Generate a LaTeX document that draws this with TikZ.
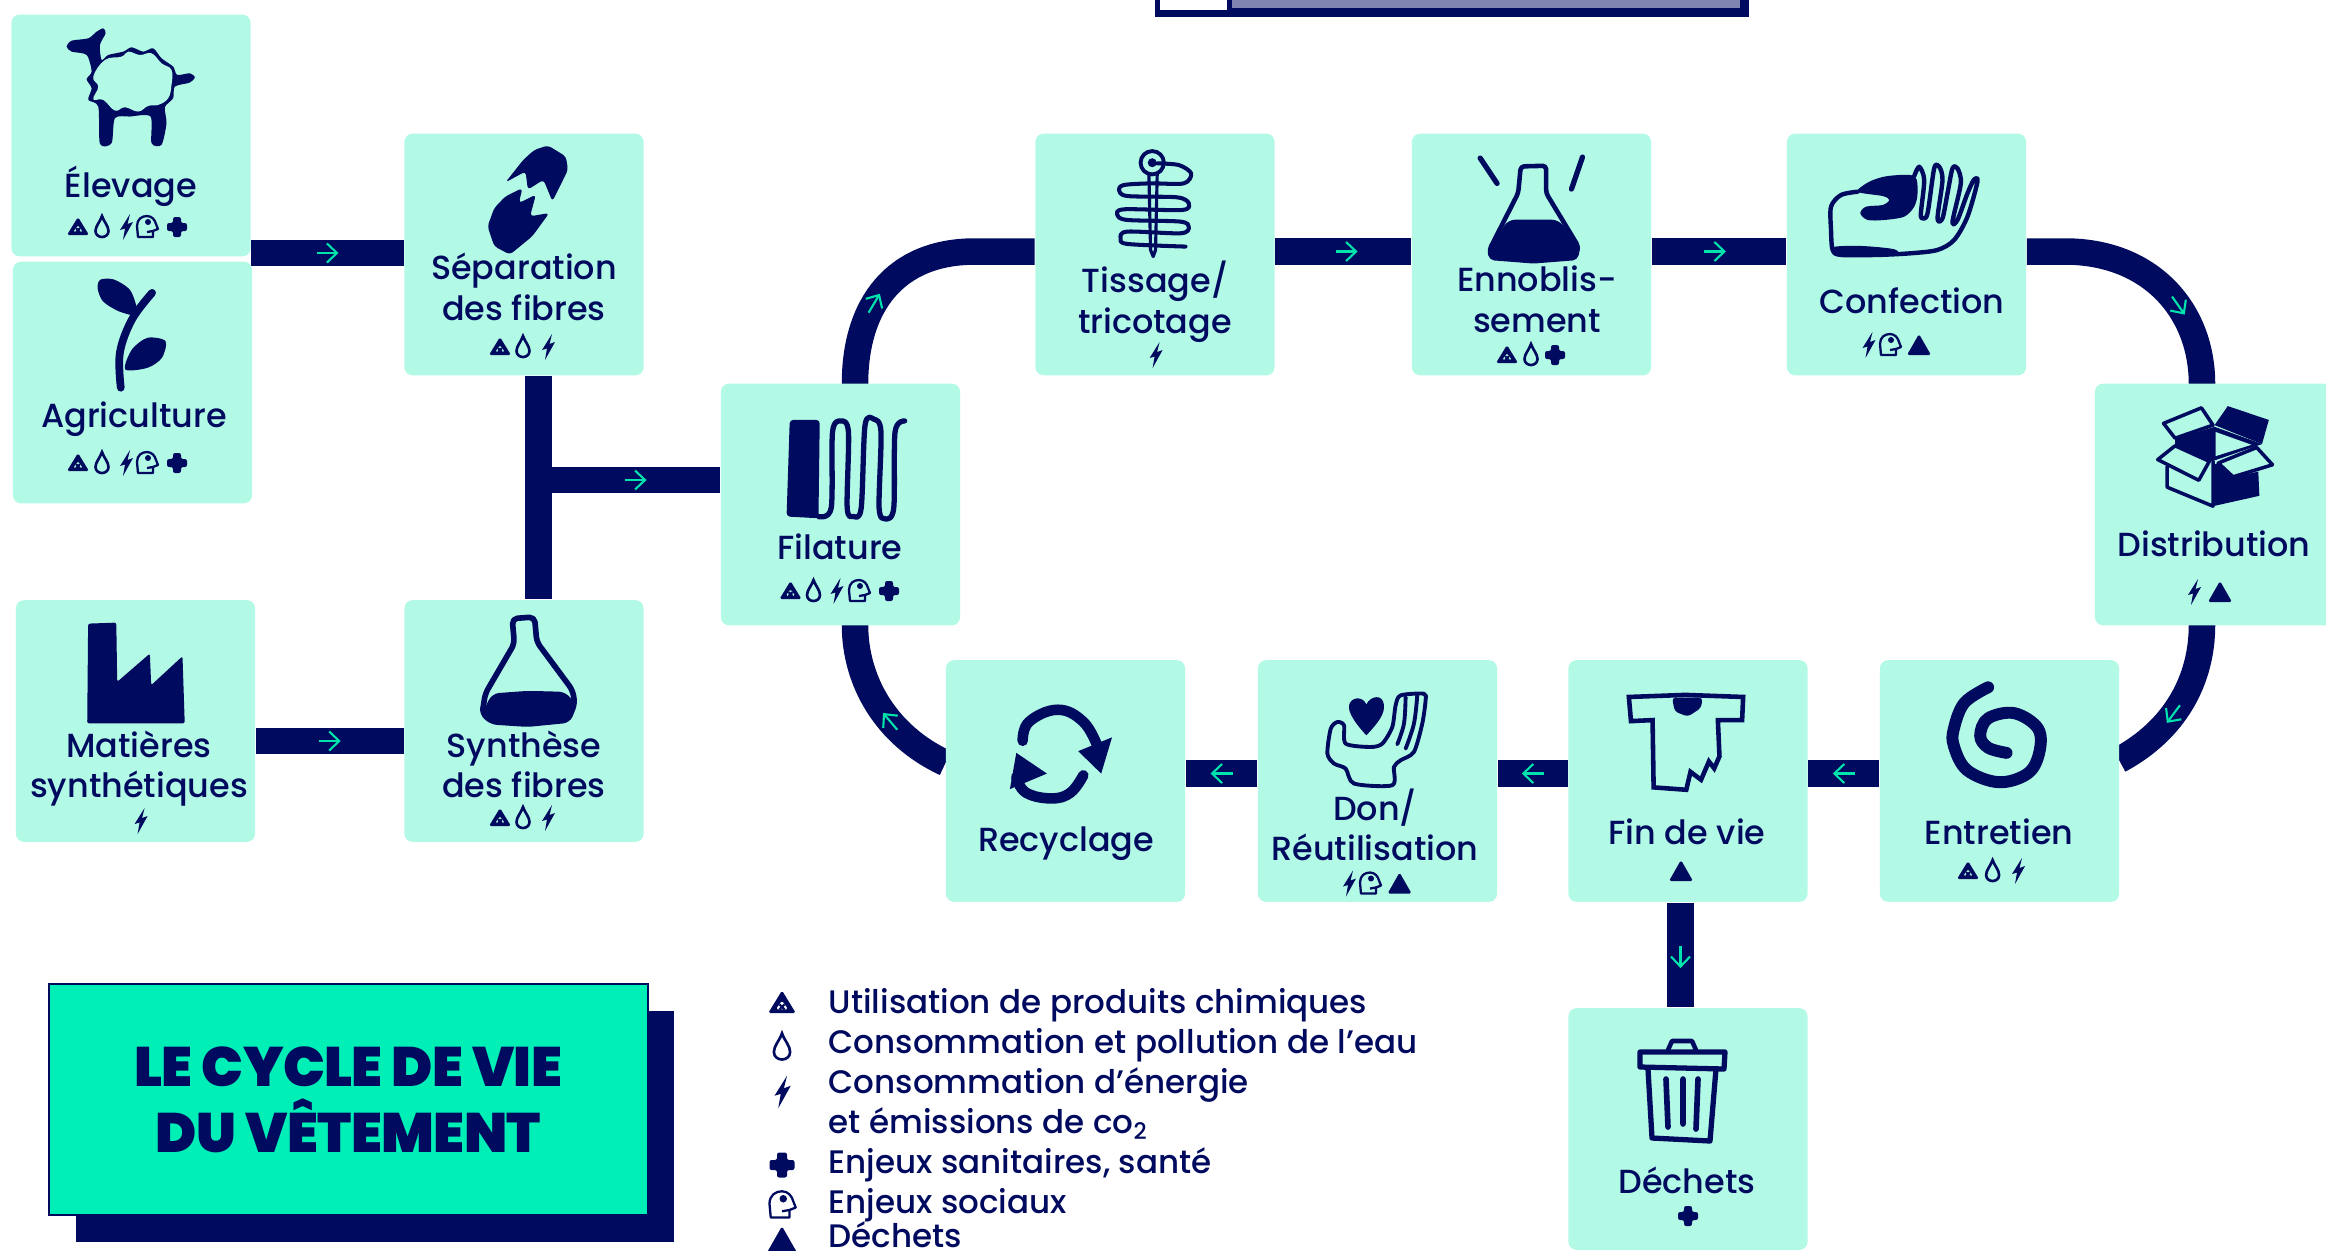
\documentclass[tikz,border=0pt]{standalone}
\usepackage{fontspec}
\setmainfont{Poppins Medium}
\usetikzlibrary{arrows.meta, backgrounds, decorations.markings}
\definecolor{navy}{HTML}{000A5E}
\definecolor{cellgreen}{HTML}{B3FAE6}
\definecolor{titlegreen}{HTML}{00EFB7}
\definecolor{markgreen}{HTML}{00E3AD}
\definecolor{topgrey}{HTML}{8084B0}
\newcommand{\flowarrow}{-{Straight Barb[length=1mm,width=1.9mm]}}
\newfontfamily\titlefont[LetterSpace=-1]{Poppins Black}
\tikzset{
    cell/.style={fill=cellgreen, rounded corners=.08cm, inner sep=0, minimum width=2.39cm, minimum height=2.415cm},
    lbl/.style={text=navy, inner sep=0, anchor=base, align=center, font=\fontsize{9.5}{11.38}\selectfont},
    legendtxt/.style={text=navy, inner sep=0, anchor=base west, font=\fontsize{9.25}{11.38}\selectfont},
    link/.style={draw=navy, line width=.265cm},
    flowmark/.style={draw=markgreen, line width=.6pt, \flowarrow},
    flow/.style={link, postaction={decorate}, decoration={markings, mark=at position #1 with {\draw[flowmark] (-11,0) -- (11,0);}}},
    flow/.default=.5,
    line ink/.style={draw=navy, line width=1.3pt, line join=round, line cap=round},
    % traced from the crops
    crop2/.style={shift={(7cm,-3.8cm)}, x=.006378cm, y=-.003444cm},
    crop4/.style={shift={(10cm,0cm)}, x=.008457cm, y=-.003333cm},
    crop5/.style={shift={(15cm,-3.8cm)}, x=.005269cm, y=-.003444cm},
    crop1/.style={x=.004464cm, y=-.003333cm},
    crop6/.style={shift={(0cm,-5.8cm)}, x=.004464cm, y=-.003333cm},
    third/.style={x=.003333cm, y=-.003333cm},
    % small marks
    chem/.pic={
        \fill[navy, even odd rule, rounded corners=.5pt] (0,-10) -- (11,8) -- (-11,8) -- cycle (0,-2) -- (5,5) -- (-5,5) -- cycle;
        \draw[navy, line width=.6pt] (-2,1) -- (2,5) (2,1) -- (-2,5);
    },
    drop/.pic={
        \draw[navy, line width=.75pt] (0,-11) .. controls (2,-5) and (6.5,-1) .. (6.5,4) .. controls (6.5,8) and (3,10) .. (0,10) .. controls (-3,10) and (-6.5,8) .. (-6.5,4) .. controls (-6.5,-1) and (-2,-5) .. (0,-11) -- cycle;
    },
    bolt/.pic={
        \fill[navy] (4,-13) -- (-6,3) -- (-1,1.5) -- (-3,13) -- (7,-5) -- (1.5,-3) -- cycle;
    },
    face/.pic={
        \draw[navy, line width=.65pt, line join=round] (-9,10) -- (-10,-1) .. controls (-10,-8) and (-5,-11) .. (0,-11) .. controls (5,-11) and (8,-7) .. (9,-3) -- (11,2) -- (6,4) -- (6,10) -- cycle;
        \fill[navy] (1,-5) circle (.3mm);
        \draw[navy, line width=.65pt] (0,5) -- (6,4);
    },
    plus/.pic={
        \fill[navy, rounded corners=.6pt] (-4,-10) -- (4,-10) -- (4,-4) -- (10,-4) -- (10,4) -- (4,4) -- (4,10) -- (-4,10) -- (-4,4) -- (-10,4) -- (-10,-4) -- (-4,-4) -- cycle;
    },
    tri/.pic={
        \fill[navy, rounded corners=.5pt] (0,-11) -- (12,10) -- (-12,10) -- cycle;
    }
}

\begin{document}
\begin{tikzpicture}[x=.01cm, y=-.01cm]
    \useasboundingbox (0,0) rectangle (2326,1250);
    \clip (0,0) rectangle (2326,1250);

    % panel cut by the top edge
    \fill[navy] (1155,-5) rectangle (1749,17);
    \fill[white] (1160,-5) rectangle (1227,9.5);
    \fill[topgrey] (1232,-5) rectangle (1740,8);

    % steps
    \node[cell] (elevage) at (131,135.5) {};
    \node[cell] (agriculture) at (132.5,382.5) {};
    \node[cell] (separation) at (524,254.5) {};
    \node[cell] (matieres) at (135.5,721) {};
    \node[cell] (synthese) at (524,721) {};
    \node[cell] (filature) at (840.5,504.5) {};
    \node[cell] (tissage) at (1155,254.5) {};
    \node[cell] (ennoblissement) at (1531.5,254.5) {};
    \node[cell] (confection) at (1906.5,254.5) {};
    \node[cell] (distribution) at (2214.5,504.5) {};
    \node[cell] (recyclage) at (1065.5,781) {};
    \node[cell] (don) at (1377.5,781) {};
    \node[cell] (findevie) at (1688,781) {};
    \node[cell] (entretien) at (1999.5,781) {};
    \node[cell] (dechets) at (1688,1129) {};

    \coordinate (toprow) at (0,251.5);
    \coordinate (botrow) at (0,773.5);
    \coordinate (junction) at (538.6,480);
    \coordinate (binline) at (1680.5,0);

    \begin{scope}[on background layer]
        \draw[flow] (elevage.east |- 0,253) -- (separation.west |- 0,253);
        \draw[link] (junction |- separation.south) -- (junction |- synthese.north);
        \draw[flow=.534] (junction) -- (filature.west |- junction);
        \draw[flow] (matieres.east |- 0,741) -- (synthese.west |- 0,741);
        \draw[flow=.32] (855,384) .. controls (855,305) and (895,251.5) .. (975,251.5) -- (tissage.west |- toprow);
        \draw[flow=.525] (tissage.east |- toprow) -- (ennoblissement.west |- toprow);
        \draw[flow=.47] (ennoblissement.east |- toprow) -- (confection.west |- toprow);
        \draw[flow=.67] (confection.east |- toprow) -- (2065,251.5) .. controls (2150,251.5) and (2202,310) .. (2202,384);
        \draw[flow=.57] (2202,625) .. controls (2202,680) and (2175,730) .. (2119,760);
        \draw[flow] (entretien.west |- botrow) -- (findevie.east |- botrow);
        \draw[flow] (findevie.west |- botrow) -- (don.east |- botrow);
        \draw[flow] (don.west |- botrow) -- (recyclage.east |- botrow);
        \draw[flow=.4] (945.5,763) .. controls (885,735) and (855,680) .. (855,625);
        \draw[flow=.52] (findevie.south -| binline) -- (dechets.north -| binline);
    \end{scope}

    % titles of the steps
    \node[lbl] (elevagetxt) at (131,197) {Élevage};
    \node[lbl] (agriculturetxt) at (134,427) {Agriculture};
    \node[lbl] (separationtxt) at (524,320) {Séparation\\des fibres};
    \node[lbl] (matierestxt) at (139,797) {Matières\\synthétiques};
    \node[lbl] (synthesetxt) at (524,797) {Synthèse\\des fibres};
    \node[lbl] (filaturetxt) at (840,559) {Filature};
    \node[lbl] (tissagetxt) at (1155,333) {Tissage/\\tricotage};
    \node[lbl] (ennoblissementtxt) at (1537,332) {Ennoblis-\\sement};
    \node[lbl] (confectiontxt) at (1912,313) {Confection};
    \node[lbl] (distributiontxt) at (2214,556.5) {Distribution};
    \node[lbl] (recyclagetxt) at (1066,851) {Recyclage};
    \node[lbl] (dontxt) at (1375,860) {Don/\\Réutilisation};
    \node[lbl] (findevietxt) at (1687,844) {Fin de vie};
    \node[lbl] (entretientxt) at (1999,844) {Entretien};
    \node[lbl] (dechetstxt) at (1687,1193) {Déchets};

    % marks under the titles
    \foreach \icon/\x/\y in {chem/78/227, drop/102/227, bolt/126/227, face/147/227, plus/177/227,
        chem/78/463, drop/102/463, bolt/126/463, face/147/463, plus/177/463,
        chem/500/347, drop/523/347, bolt/548/347,
        bolt/140.6/821,
        chem/500/818, drop/523/818, bolt/548/818,
        chem/790.5/591, drop/813.5/591, bolt/836.5/591, face/859/591, plus/889/591,
        bolt/1155.6/355,
        chem/1507/355, drop/1531/355, plus/1555/355,
        bolt/1868.5/345, face/1890/345, tri/1919/345,
        bolt/2194/592, tri/2220/592,
        chem/1968/871, drop/1992.6/871, bolt/2018/871,
        tri/1681/871,
        bolt/1349/883.5, face/1370/883.5, tri/1399.6/883.5,
        plus/1688/1216}
        \pic at (\x,\y) {\icon};

    % sheep
    \begin{scope}[third, shift={(.5cm,-.2cm)}]
        \fill[navy] plot[smooth cycle, tension=.45] coordinates {(160,25) (167,40) (150,75) (155,120) (175,105) (220,95) (245,82) (280,95) (310,85) (335,115) (370,140) (382,165) (420,160) (435,172) (420,188) (375,200) (370,235) (345,262) (350,310) (335,375) (305,370) (302,290) (240,290) (195,295) (185,370) (150,372) (145,260) (115,240) (125,205) (110,178) (125,155) (110,105) (65,95) (50,80) (65,62) (115,55) (140,35)};
        \fill[cellgreen] plot[smooth cycle, tension=.7] coordinates {(130,170) (165,120) (215,110) (235,95) (270,105) (305,100) (335,130) (365,150) (365,195) (355,235) (325,255) (295,258) (265,275) (225,262) (195,272) (160,240) (130,238) (145,200)};
    \end{scope}

    \begin{scope}[crop1]
    % plant
        \draw[navy, line width=2.2pt, line cap=round] plot[smooth, tension=.6] coordinates {(270,1165) (268,1060) (295,960) (340,880)};
        \fill[navy] plot[smooth cycle, tension=.5] coordinates {(225,840) (255,840) (290,870) (305,920) (305,948) (265,935) (230,905) (218,865)};
        \fill[navy] plot[smooth cycle, tension=.5] coordinates {(280,1110) (295,1050) (330,1015) (370,1025) (362,1075) (330,1105)};
    % seed
        \fill[navy, rounded corners=1pt] (1225,437) -- (1265,470) -- (1270,510) -- (1235,605) -- (1215,540) -- (1180,570) -- (1175,515) -- (1130,548) -- (1170,480) -- (1195,450) -- cycle;
        \fill[navy, rounded corners=1pt] (1168,565) -- (1160,610) -- (1198,585) -- (1185,650) -- (1228,640) -- (1190,710) -- (1140,765) -- (1105,740) -- (1090,680) -- (1105,625) -- (1130,590) -- cycle;
    \end{scope}

    \begin{scope}[crop6]
    % factory
        \fill[navy, rounded corners=.6pt] (197,130) -- (260,127) -- (262,305) -- (335,220) -- (338,315) -- (408,228) -- (413,430) -- (195,430) -- cycle;
    % flask
        \draw[line ink, rounded corners=1.5pt, line width=1.6pt] (1145,115) -- (1150,190) -- (1085,340) -- (1078,400) -- (1100,425) -- (1180,432) -- (1270,420) -- (1285,370) -- (1280,330) -- (1200,185) -- (1195,110) -- cycle;
        \fill[navy, rounded corners=2pt] (1100,340) -- (1180,332) -- (1265,335) -- (1285,370) -- (1270,420) -- (1180,432) -- (1100,425) -- (1078,400) -- cycle;
    \end{scope}

    \begin{scope}[crop2]
    % spun yarn
        \fill[navy, rounded corners=1pt] (140,115) -- (187,115) -- (185,400) -- (135,395) -- cycle;
        \draw[line ink, line width=1.5pt] plot[smooth, tension=.5] coordinates {(185,395) (205,370) (207,150) (220,118) (232,150) (230,370) (240,395) (252,370) (258,130) (272,113) (283,150) (280,370) (290,402) (303,370) (305,150) (320,118)};
    % recycling arrows
        \draw[navy, line width=3pt, line cap=round] plot[smooth, tension=.7] coordinates {(505,1045) (515,990) (560,955) (600,990) (622,1060)};
        \fill[navy] (645,1035) -- (628,1140) -- (592,1075) -- cycle;
        \draw[navy, line width=3pt, line cap=round] plot[smooth, tension=.7] coordinates {(600,1145) (580,1195) (550,1212) (510,1195) (495,1150)};
        \fill[navy] (495,1080) -- (543,1140) -- (485,1185) -- cycle;
    \end{scope}

    % hand with heart
    \begin{scope}[third, shift={(13.1cm,-6.8cm)}]
        \fill[navy] (167,165) .. controls (130,125) and (112,95) .. (115,75) .. controls (120,50) and (155,45) .. (167,72) .. controls (180,45) and (218,40) .. (220,75) .. controls (222,100) and (205,125) .. cycle;
        \draw[line ink, line width=1.1pt] plot[smooth cycle, tension=.45] coordinates {(340,40) (270,45) (255,75) (245,140) (215,190) (180,200) (105,190) (100,135) (80,125) (60,145) (50,220) (70,250) (105,265) (130,310) (245,315) (250,260) (270,240) (310,215) (335,130) (345,60)};
        \draw[line ink, line width=1.1pt] plot[smooth, tension=.6] coordinates {(285,50) (280,130) (260,192)};
        \draw[line ink, line width=1.1pt] plot[smooth, tension=.6] coordinates {(320,45) (310,130) (285,205)};
    \end{scope}

    % needle and thread
    \begin{scope}[third, shift={(11cm,-1.4cm)}]
        \draw[line ink, line width=1.1pt] (155,68) circle (35 and 35);
        \fill[navy] (155,68) circle (.45mm);
        \draw[line ink, line width=.9pt] (145,100) -- (150,330) -- (158,350) -- (165,330) -- (170,100);
        \draw[line ink, line width=1.15pt] plot[smooth, tension=.5] coordinates {(170,70) (235,75) (272,100) (250,130) (150,130) (70,135) (55,150) (80,168) (230,172) (265,190) (245,210) (70,208) (50,225) (80,240) (240,245) (265,262) (240,280) (80,275) (60,295) (80,312) (255,320)};
    \end{scope}

    \begin{scope}[crop4]
    % flask and rays
        \draw[line ink, line width=1.3pt, rounded corners=1pt] (615,500) -- (645,498) -- (645,580) -- (683,740) -- (680,775) -- (630,785) -- (580,775) -- (578,750) -- (612,580) -- cycle;
        \fill[navy, rounded corners=2pt] (600,660) -- (660,660) -- (683,740) -- (680,775) -- (630,785) -- (580,775) -- (578,750) -- cycle;
        \draw[navy, line width=1.5pt, line cap=round] (567,475) -- (587,551) (688,472) -- (675,568);
    \end{scope}

    % sewing hand
    \begin{scope}[third, shift={(18.1cm,-1.5cm)}]
        \fill[navy] plot[smooth cycle, tension=.5] coordinates {(140,125) (175,95) (230,78) (310,78) (320,130) (310,170) (280,200) (220,210) (170,210) (148,190) (165,170) (215,165) (235,150) (215,138)};
        \draw[line ink, line width=1.25pt] plot[smooth, tension=.5] coordinates {(140,125) (90,135) (60,170) (60,240) (65,300) (90,315) (200,315) (300,310) (380,300) (430,270) (470,200) (500,95) (490,88) (470,130) (440,210) (425,215) (450,100) (440,55) (425,55) (410,130) (395,205) (380,205) (395,90) (385,50) (370,55) (350,190) (335,205) (330,190) (340,90) (325,50) (310,78)};
        \fill[navy] plot[smooth cycle, tension=.5] coordinates {(65,292) (150,288) (250,298) (250,316) (90,320)};
    \end{scope}

    \begin{scope}[crop5]
    % shirt
        \draw[line ink, line width=1.3pt, line join=miter] (243,918) -- (350,912) -- (460,918) -- (458,985) -- (412,985) -- (415,1090) -- (405,1125) -- (395,1105) -- (380,1158) -- (360,1135) -- (352,1187) -- (290,1180) -- (288,985) -- (247,988) -- cycle;
        \fill[navy, rounded corners=1pt] (325,920) -- (383,920) -- (380,950) -- (355,975) -- (330,960) -- cycle;
    % spiral
        \draw[navy, line width=3.4pt, line cap=round] plot[smooth, tension=.6] coordinates {(925,890) (880,935) (860,1010) (860,1060) (885,1130) (945,1165) (1000,1140) (1022,1080) (1020,1010) (975,965) (925,980) (910,1030) (925,1065) (960,1080)};
    % box
        \draw[line ink, line width=1pt] (1265,250) -- (1265,310) -- (1352,365) -- (1352,235);
        \fill[navy] (1352,245) -- (1352,365) -- (1440,335) -- (1438,265) -- (1390,280) -- (1362,240) -- cycle;
        \fill[navy] (1280,170) -- (1355,135) -- (1445,185) -- (1350,235) -- (1280,190) -- cycle;
        \fill[cellgreen] (1357,150) -- (1425,187) -- (1357,220) -- cycle;
        \draw[line ink, line width=1pt] (1258,125) -- (1330,80) -- (1352,130) -- (1280,168) -- cycle;
        \fill[navy] (1380,75) -- (1458,115) -- (1445,185) -- (1355,130) -- cycle;
        \draw[line ink, line width=1pt, fill=cellgreen] (1280,190) -- (1345,235) -- (1325,290) -- (1247,230) -- cycle;
        \draw[line ink, line width=1pt, fill=cellgreen] (1362,240) -- (1435,195) -- (1465,245) -- (1390,280) -- cycle;
    \end{scope}

    % bin
    \draw[line ink, line width=1.5pt] (1640,1052) -- (1725,1052) -- (1724,1069) -- (1640,1067) -- cycle;
    \draw[line ink, line width=1.5pt] (1648,1069) -- (1652,1138) -- (1710,1141) -- (1716,1069);
    \draw[line ink, line width=1.6pt] (1666,1079) -- (1668,1127) (1683,1079) -- (1683,1124) (1698,1079) -- (1696,1129);
    \draw[line ink, line width=1.3pt] (1668,1050) -- (1672,1041) -- (1692,1041) -- (1696,1050);

    % title panel
    \fill[navy] (76,1011) rectangle (674,1242);
    \node[fill=titlegreen, draw=navy, line width=.5pt, minimum width=5.985cm, minimum height=2.31cm, inner sep=0] (titlepanel) at (348.25,1099.5) {};
    \node[text=navy, inner sep=0, align=center, font=\titlefont\fontsize{15.8}{18.8}\selectfont] (titletxt) at (348.25,1100) {LE CYCLE DE VIE\\DU VÊTEMENT};

    % key
    \foreach \n/\y/\txt in {a/1013/Utilisation de produits chimiques,
        b/1053/Consommation et pollution de l’eau,
        c/1093/Consommation d’énergie,
        d/1133/et émissions de co\textsubscript{2},
        e/1173/{Enjeux sanitaires, santé},
        f/1213/Enjeux sociaux,
        g/1247/Déchets}
        \node[legendtxt] (key\n) at (828,\y) {\txt};
    \foreach \icon/\y in {chem/1003, drop/1047, bolt/1092, plus/1165, face/1205, tri/1240}
        \pic[scale=1.25] at (782,\y) {\icon};
\end{tikzpicture}
\end{document}
